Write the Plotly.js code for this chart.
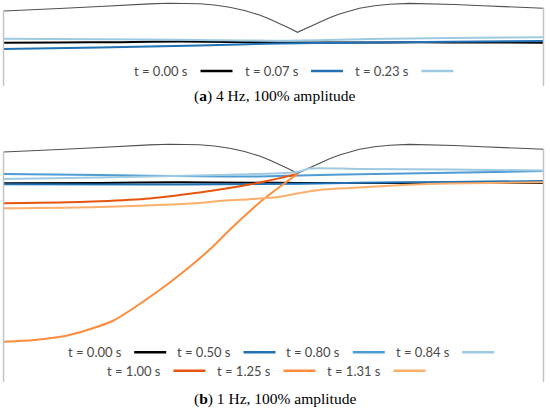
<!DOCTYPE html>
<html><head><meta charset="utf-8">
<script src="https://cdn.plot.ly/plotly-3.0.1.min.js"></script>
<style>html,body{margin:0;padding:0;background:#fff}#chart{width:550px;height:415px}</style>
</head><body><div id="chart"></div>
<script>
// ---- tank roof profile (same tank in both panels), x in mm along tank, height in mm
const roofX = [0, 26, 56, 96, 126, 146, 166, 181, 196, 211, 226, 241, 256, 266, 276, 286, 294, 299, 306, 316, 326, 336, 346, 356, 371, 386, 406, 426, 451, 479, 506, 526, 540];
const roofY = [34, 35, 36.5, 38.5, 40.2, 41.1, 41.7, 41.7, 41.2, 40, 37.7, 34.5, 30, 26, 21.7, 16.7, 12.7, 15, 18.5, 23.3, 27.2, 31, 34, 36.7, 39.2, 40.7, 41.6, 41.4, 40.5, 39.3, 38.2, 37.3, 36.7];

// ---- panel (a): 4 Hz, 100% amplitude
const aLabels = ["t = 0.00 s", "t = 0.07 s", "t = 0.23 s"];
const aX = [
  [0, 56, 116, 176, 226, 276, 346, 416, 476, 540],
  [0, 96, 196, 276, 346, 446, 540],
  [0, 96, 196, 276, 366, 446, 540]
];
const aY = [
  [2.3, 2.5, 2.8, 3.4, 3.0, 2.5, 2.5, 2.7, 2.5, 2.3],
  [-4, -2.6, -0.5, 1.5, 2.2, 3.2, 4],
  [6.3, 5.8, 5, 4.3, 6, 7, 7.7]
];

// ---- panel (b): 1 Hz, 100% amplitude
const bLabels = ["t = 0.00 s", "t = 0.50 s", "t = 0.80 s", "t = 0.84 s", "t = 1.00 s", "t = 1.25 s", "t = 1.31 s"];
const bX = [
  [0, 96, 176, 246, 296, 396, 540],
  [0, 146, 216, 296, 356, 446, 540],
  [0, 96, 196, 256, 296, 356, 446, 540],
  [0, 96, 146, 216, 286, 296, 306, 356, 446, 540],
  [0, 56, 96, 146, 196, 216, 246, 266, 281, 294],
  [0, 31, 67, 110, 152, 181, 209, 226, 241, 259, 276, 294],
  [0, 96, 196, 216, 246, 276, 296, 316, 346, 399, 446, 540]
];
const bY = [
  [2.7, 3, 3.8, 3.3, 3, 3, 3],
  [1.7, 1.5, 1.7, 2.2, 3.3, 4, 5],
  [12, 11, 9.7, 9.5, 10.5, 11.8, 13.2, 15],
  [7, 8.5, 9.5, 11, 13.2, 14.5, 17.5, 17, 16.5, 15.5],
  [-17.3, -16.5, -15.3, -12.5, -6.5, -3.5, 1.5, 5.5, 9, 12],
  [-155.8, -154, -148.7, -134.5, -107, -85, -61, -44, -30, -14, -1, 12],
  [-22.3, -21, -17, -15, -13.2, -10.7, -7, -4, -2, 1, 2.5, 3.8]
];

const captions = ["(<b>a</b>) 4 Hz, 100% amplitude", "(<b>b</b>) 1 Hz, 100% amplitude"];

// ---- styles
const aColors = ["#000000", "#2171b5", "#9ecae1"];
const bColors = ["#000000", "#2171b5", "#4f9bd4", "#9ecae1", "#e6550d", "#fd8d3c", "#fdae6b"];
const W = 550, H = 415;
const wallBottom = [-41, -196];
const legendFont = {family: "Lato, 'Open Sans', sans-serif", size: 13, color: "#4a4a4a"};

const traces = [];
function roofTraces(xa, ya) {
  traces.push({x: roofX, y: roofY, xaxis: xa, yaxis: ya, type: "scatter", mode: "lines",
    line: {color: "#505050", width: 1.1}, hoverinfo: "skip", showlegend: false});
}
roofTraces("x", "y");
aX.forEach((xs, i) => traces.push({x: xs, y: aY[i], xaxis: "x", yaxis: "y", type: "scatter", mode: "lines",
  name: aLabels[i], line: {color: aColors[i], width: 2, shape: "spline", smoothing: 0.7}, showlegend: false}));
roofTraces("x2", "y2");
bX.forEach((xs, i) => traces.push({x: xs, y: bY[i], xaxis: "x2", yaxis: "y2", type: "scatter", mode: "lines",
  name: bLabels[i], line: {color: bColors[i], width: 2, shape: "spline", smoothing: 0.7}, showlegend: false}));

const shapes = [];
const annotations = [];
// tank walls
[["x", "y", wallBottom[0]], ["x2", "y2", wallBottom[1]]].forEach(([xr, yr, yb]) => {
  [[roofX[0], roofY[0]], [roofX[roofX.length - 1], roofY[roofY.length - 1]]].forEach(([wx, wy]) => {
    shapes.push({type: "line", xref: xr, yref: yr, x0: wx, x1: wx, y0: wy, y1: yb,
      line: {color: "#c4c4c4", width: 1.5}});
  });
});

// custom legend: label followed by line sample
function legendRow(labels, colors, startPx, pitch, yPx) {
  labels.forEach((lab, i) => {
    const x = startPx + i * pitch;
    annotations.push({text: lab, xref: "paper", yref: "paper", x: x / W, y: 1 - yPx / H,
      xanchor: "left", yanchor: "middle", showarrow: false, font: legendFont});
    shapes.push({type: "line", xref: "paper", yref: "paper", x0: (x + 68.5) / W, x1: (x + 100.5) / W,
      y0: 1 - yPx / H, y1: 1 - yPx / H, line: {color: colors[i], width: 2.5}});
  });
}
legendRow(aLabels, aColors, 132, 110.5, 71);
legendRow(bLabels.slice(0, 4), bColors.slice(0, 4), 65.7, 109.3, 352.3);
legendRow(bLabels.slice(4), bColors.slice(4), 105, 110, 370.7);

// captions
[[captions[0], 95.5], [captions[1], 399.3]].forEach(([txt, yPx]) => {
  annotations.push({text: txt, xref: "paper", yref: "paper", x: 275 / W, y: 1 - yPx / H,
    xanchor: "center", yanchor: "middle", showarrow: false,
    font: {family: "'Liberation Serif', 'DejaVu Serif', serif", size: 15.5, color: "#000000"}});
});

const hidden = {visible: false, showgrid: false, zeroline: false};
const layout = {
  width: W, height: H,
  margin: {l: 0, r: 0, t: 0, b: 0},
  paper_bgcolor: "#ffffff", plot_bgcolor: "rgba(0,0,0,0)",
  showlegend: false,
  xaxis: Object.assign({domain: [0, 1], range: [-3.5, 546.5], anchor: "y"}, hidden),
  yaxis: Object.assign({domain: [1 - 90 / H, 1], range: [-45, 45], anchor: "x"}, hidden),
  xaxis2: Object.assign({domain: [0, 1], range: [-3.5, 546.5], anchor: "y2"}, hidden),
  yaxis2: Object.assign({domain: [1 - 385 / H, 1 - 140 / H], range: [-199, 46], anchor: "x2"}, hidden),
  shapes: shapes,
  annotations: annotations
};
Plotly.newPlot("chart", traces, layout, {staticPlot: true, displayModeBar: false});
</script></body></html>
